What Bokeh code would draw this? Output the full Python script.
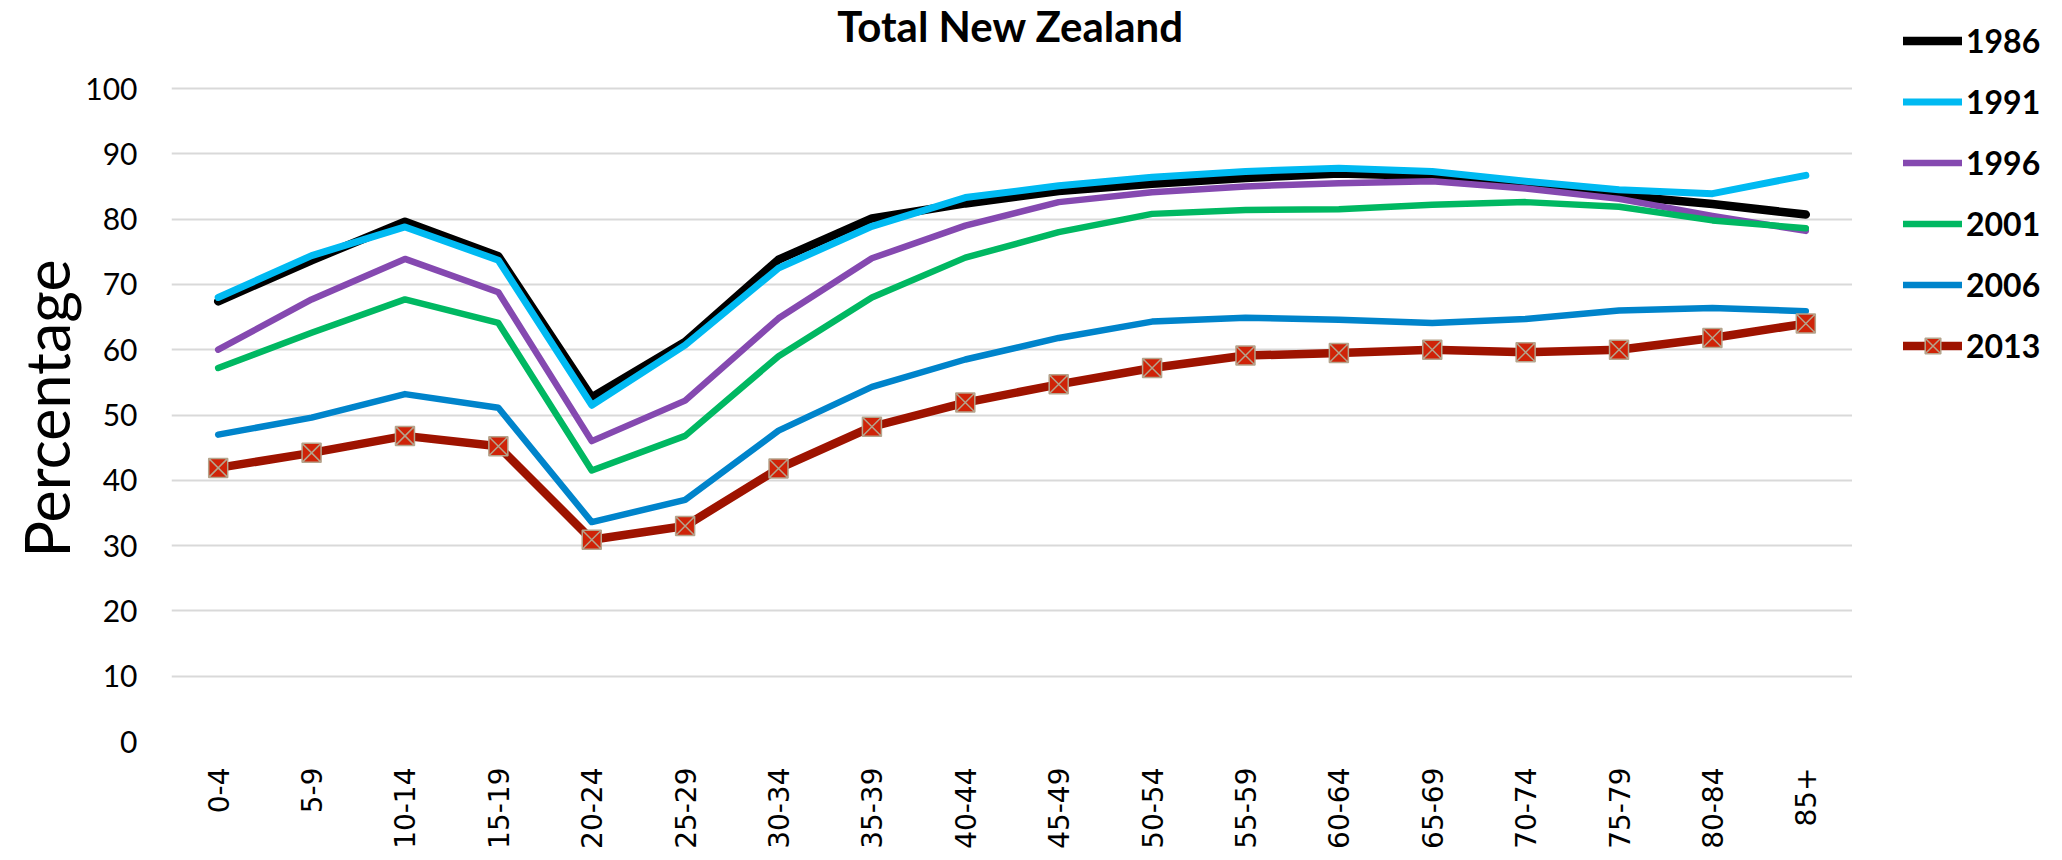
import math
from bokeh.plotting import figure
from bokeh.layouts import row
from bokeh.models import FactorRange, Range1d, FixedTicker, Legend, LegendItem, Label, Title
from bokeh.embed import file_html
from bokeh.resources import INLINE

ages = ["0-4", "5-9", "10-14", "15-19", "20-24", "25-29", "30-34", "35-39", "40-44",
        "45-49", "50-54", "55-59", "60-64", "65-69", "70-74", "75-79", "80-84", "85+"]

y1986 = [67.4, 73.7, 79.6, 74.3, 52.7, 61.2, 73.8, 80.1, 82.4, 84.3, 85.4, 86.3, 87.0, 86.6, 85.4, 83.6, 82.3, 80.7]
y1991 = [68.0, 74.4, 78.8, 73.7, 51.5, 60.7, 72.5, 78.9, 83.3, 85.1, 86.4, 87.3, 87.8, 87.3, 85.8, 84.5, 83.9, 86.7]
y1996 = [60.0, 67.7, 73.9, 68.8, 46.0, 52.2, 64.8, 74.0, 79.0, 82.6, 84.1, 85.0, 85.5, 85.8, 84.7, 83.1, 80.5, 78.2]
y2001 = [57.2, 62.6, 67.7, 64.1, 41.5, 46.8, 59.0, 68.0, 74.1, 78.0, 80.8, 81.4, 81.5, 82.2, 82.6, 81.9, 79.8, 78.6]
y2006 = [47.0, 49.6, 53.2, 51.1, 33.6, 37.0, 47.6, 54.3, 58.5, 61.8, 64.3, 64.9, 64.6, 64.1, 64.7, 66.0, 66.4, 65.9]
y2013 = [41.9, 44.2, 46.8, 45.2, 30.9, 33.0, 41.8, 48.2, 51.9, 54.7, 57.2, 59.1, 59.5, 60.0, 59.6, 60.0, 61.8, 64.0]

series_names = ["1986", "1991", "1996", "2001", "2006", "2013"]
series_vals = [y1986, y1991, y1996, y2001, y2006, y2013]
colors = ["#000000", "#00BAF2", "#8549B0", "#00B862", "#0084CB", "#9E1300"]
widths = [8.5, 7, 6.5, 6.5, 6.5, 8.5]
y_ticks = [0, 10, 20, 30, 40, 50, 60, 70, 80, 90, 100]

H = 852
FL, FR, FB = 171, 1852, 741          # main plot-area edges (canvas px)
LEG_W = 208                          # width of the legend column
PX_PER_UNIT = (FB - 88) / 100.0      # 100 sits at y=88
y_top = 100 + 88 / PX_PER_UNIT       # frame reaches the top of the canvas

p = figure(width=FR, height=H, x_range=FactorRange(factors=ages), y_range=Range1d(0, y_top),
           output_backend="svg", toolbar_location=None,
           min_border_left=FL, min_border_right=0, min_border_top=0, min_border_bottom=H - FB)
p.outline_line_color = None
p.background_fill_color = "white"

p.xgrid.grid_line_color = None
p.ygrid.grid_line_color = "#D9D9D9"
p.ygrid.grid_line_width = 2

p.yaxis.ticker = FixedTicker(ticks=y_ticks)
p.yaxis.axis_line_color = None
p.yaxis.major_tick_line_color = None
p.yaxis.minor_tick_line_color = None
p.yaxis.major_tick_out = 0
p.yaxis.major_label_standoff = 34
p.yaxis.major_label_text_font = "Lato"
p.yaxis.major_label_text_font_size = "30px"
p.yaxis.major_label_text_color = "#000000"

p.xaxis.axis_line_color = None
p.xaxis.major_tick_line_color = None
p.xaxis.minor_tick_line_color = None
p.xaxis.major_tick_out = 0
p.xaxis.major_label_orientation = math.pi / 2
p.xaxis.major_label_standoff = 26
p.xaxis.major_label_text_font = "DejaVu Sans"
p.xaxis.major_label_text_font_size = "28px"
p.xaxis.major_label_text_color = "#000000"

ylab = Title(text="Percentage", align="left", offset=FB - 557, vertical_align="bottom",
             text_font="Lato", text_font_size="61px", text_font_style="normal",
             text_color="#000000", standoff=0)
p.add_layout(ylab, "left")

for name, vals, c, w in zip(series_names, series_vals, colors, widths):
    p.line(ages, vals, line_color=c, line_width=w, line_cap="round", line_join="round")
    if name == "2013":
        p.scatter(ages, vals, marker="square_x", size=19, fill_color="#CF2308",
                  line_color="#B5A48C", line_width=1.5)

title = Label(x=1010 - FL, y=FB - 25, x_units="screen", y_units="screen", text="Total New Zealand",
              text_font="Lato", text_font_size="42px", text_font_style="bold",
              text_align="center", text_baseline="alphabetic", text_color="#000000")
p.add_layout(title)

# legend column: key renderers hold one off-screen point so the keys get drawn
p2 = figure(width=LEG_W, height=H, x_range=Range1d(0, 1), y_range=Range1d(0, 1),
            x_axis_type=None, y_axis_type=None, output_backend="svg", toolbar_location=None,
            min_border=0)
p2.outline_line_color = None
key_x, key_y = [-5.0], [-5.0]
items = []
for name, c, w in zip(series_names, colors, widths):
    r = p2.line(x=key_x, y=key_y, line_color=c, line_width=w, line_cap="round", line_join="round")
    rs = [r]
    if name == "2013":
        rs.append(p2.scatter(x=key_x, y=key_y, marker="square_x", size=19, fill_color="#CF2308",
                             line_color="#B5A48C", line_width=1.5))
    items.append(LegendItem(label=name, renderers=rs))

n = len(items)
item_h, gap = 39, 22
leg_h = n * item_h + (n - 1) * gap
leg_top = 40 - item_h / 2
# p2's plot area is aligned with the main plot area (bottom at FB)
legend = Legend(items=items, location=(1903 - FR, FB - leg_top - leg_h), padding=0, margin=0,
                glyph_width=59, glyph_height=item_h, label_height=item_h, spacing=gap,
                label_standoff=4, border_line_color=None, background_fill_alpha=0,
                label_text_font="Lato", label_text_font_size="32px",
                label_text_font_style="bold", label_text_color="#000000")
p2.add_layout(legend, "center")

layout = row(p, p2)
open("out.html", "w").write(file_html(layout, INLINE))
